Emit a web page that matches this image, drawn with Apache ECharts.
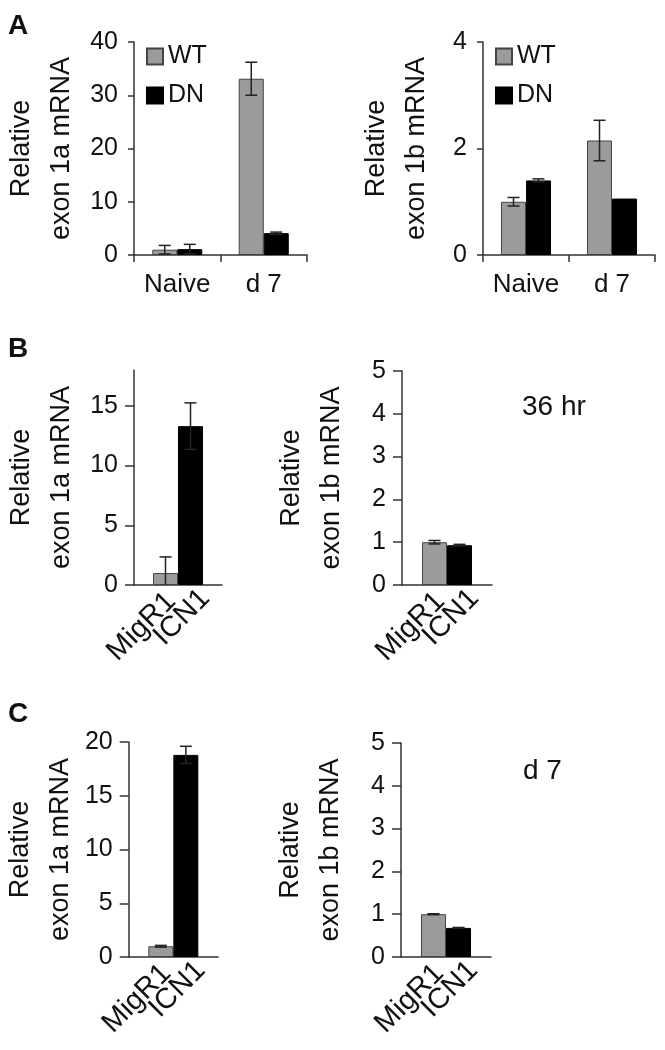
<!DOCTYPE html>
<html>
<head>
<meta charset="utf-8">
<script src="https://cdn.jsdelivr.net/npm/echarts@6/dist/echarts.min.js"></script>
<style>
html, body { margin: 0; padding: 0; background: #fff; }
#main { width: 665px; height: 1050px; }
</style>
</head>
<body>
<div id="main"></div>
<script>
// panel A: WT vs DN
const groupsA = ['Naive', 'd 7'];
const wt1a = [1.0, 33.1];
const wt1aErr = [0.8, 3.1];
const dn1a = [1.1, 4.1];
const dn1aErr = [0.9, 0.2];
const wt1b = [1.0, 2.15];
const wt1bErr = [0.08, 0.38];
const dn1b = [1.4, 1.06];
const dn1bErr = [0.03, 0];

// panel B (36 hr) and C (d 7): MigR1 vs ICN1
const groupsBC = ['MigR1', 'ICN1'];
const b1a = [1.0, 13.3];
const b1aErr = [1.35, 1.95];
const b1b = [1.0, 0.93];
const b1bErr = [0.04, 0.02];
const c1a = [1.0, 18.8];
const c1aErr = [0.08, 0.8];
const c1b = [1.0, 0.68];
const c1bErr = [0.01, 0.01];

// tick labels for the 18-max axis
const ticksB1a = [0, 5, 10, 15];

const FONT = 'Liberation Sans, Arial, Helvetica, sans-serif';
const GREY = '#9b9b9b';
const INK = '#111';
const BAR_W = 25;

const chart = echarts.init(document.getElementById('main'));

const grids = [
  { left: 134, top: 42, width: 173, height: 213 },
  { left: 483, top: 42, width: 172, height: 213 },
  { left: 134, top: 370, width: 88, height: 215 },
  { left: 402, top: 371, width: 90, height: 214 },
  { left: 128, top: 742, width: 90, height: 215 },
  { left: 401, top: 743, width: 90, height: 214 }
];

const axisLine = { show: true, lineStyle: { color: '#333', width: 1.5 } };

function xAx(gi, data, showLabels) {
  return {
    type: 'category', gridIndex: gi, data: data,
    axisLine: axisLine,
    axisTick: { show: showLabels, length: 7, lineStyle: { color: '#333', width: 1.5 } },
    axisLabel: { show: showLabels, interval: 0, fontSize: 26, margin: 17, color: INK },
    splitLine: { show: false }
  };
}

function yAx(gi, max, interval, name, gap, tickLen, custom) {
  const ax = {
    type: 'value', gridIndex: gi, min: 0, max: max, interval: interval,
    name: name, nameLocation: 'middle', nameRotate: 90, nameGap: gap,
    nameTextStyle: { fontSize: 27, lineHeight: 40, color: INK },
    axisLine: axisLine,
    axisTick: { show: true, length: tickLen, lineStyle: { color: '#333', width: 1.5 } },
    axisLabel: { fontSize: 25, margin: 16, color: INK },
    splitLine: { show: false }
  };
  if (custom) {
    ax.axisTick.customValues = custom;
    ax.axisLabel.customValues = custom;
  }
  return ax;
}

function barSeries(gi, name, data, color, label) {
  const s = {
    type: 'bar', name: name, xAxisIndex: gi, yAxisIndex: gi, data: data,
    barWidth: BAR_W, barGap: '0%',
    itemStyle: { color: color, borderColor: color === GREY ? '#444' : '#000', borderWidth: 1 }
  };
  if (label) s.label = label;
  return s;
}

// rotated category text drawn under each bar (offset is in the rotated frame)
function rotLabel(off, dist) {
  return {
    show: true, position: 'bottom', distance: dist, rotate: 45,
    align: 'right', verticalAlign: 'middle', offset: [off, off],
    formatter: '{a}', fontSize: 29, color: INK
  };
}

function errSeries(gi, vals, errs, k, n) {
  return {
    type: 'custom', xAxisIndex: gi, yAxisIndex: gi, z: 10, silent: true,
    encode: { x: 0, y: 1 },
    data: vals.map((v, i) => [i, v, errs[i]]),
    renderItem: function (params, api) {
      const i = api.value(0), v = api.value(1), e = api.value(2);
      if (!e) return;
      const off = (k - (n - 1) / 2) * BAR_W;
      const top = api.coord([i, v + e]);
      const bot = api.coord([i, Math.max(0, v - e)]);
      const x = top[0] + off;
      const st = { stroke: '#222', lineWidth: 1.5 };
      const kids = [
        { type: 'line', shape: { x1: x, y1: top[1], x2: x, y2: bot[1] }, style: st },
        { type: 'line', shape: { x1: x - 6, y1: top[1], x2: x + 6, y2: top[1] }, style: st }
      ];
      if (v - e > 0) {
        kids.push({ type: 'line', shape: { x1: x - 6, y1: bot[1], x2: x + 6, y2: bot[1] }, style: st });
      }
      return { type: 'group', children: kids };
    }
  };
}

const legendBase = {
  data: ['WT', 'DN'], orient: 'vertical', icon: 'rect',
  itemWidth: 16, itemHeight: 16, itemGap: 14, padding: 0, selectedMode: false,
  textStyle: { fontSize: 25, color: INK }
};

const titleStyle = { fontSize: 28, fontWeight: 'bold', color: INK };
const noteStyle = { fontSize: 28, fontWeight: 'normal', color: INK };

chart.setOption({
  animation: false,
  textStyle: { fontFamily: FONT },
  title: [
    { text: 'A', left: 8, top: 12, padding: 0, textStyle: titleStyle },
    { text: 'B', left: 8, top: 335, padding: 0, textStyle: titleStyle },
    { text: 'C', left: 8, top: 700, padding: 0, textStyle: titleStyle },
    { text: '36 hr', left: 522, top: 393, padding: 0, textStyle: noteStyle },
    { text: 'd 7', left: 523, top: 757, padding: 0, textStyle: noteStyle }
  ],
  legend: [
    Object.assign({ left: 146, top: 44 }, legendBase),
    Object.assign({ left: 495, top: 44 }, legendBase)
  ],
  grid: grids,
  xAxis: [
    xAx(0, groupsA, true),
    xAx(1, groupsA, true),
    xAx(2, [''], false),
    xAx(3, [''], false),
    xAx(4, [''], false),
    xAx(5, [''], false)
  ],
  yAxis: [
    yAx(0, 40, 10, 'Relative\nexon 1a mRNA', 52, 6),
    yAx(1, 4, 2, 'Relative\nexon 1b mRNA', 46, 6),
    yAx(2, 18, 5, 'Relative\nexon 1a mRNA', 52, 9, ticksB1a),
    yAx(3, 5, 1, 'Relative\nexon 1b mRNA', 50, 9),
    yAx(4, 20, 5, 'Relative\nexon 1a mRNA', 46, 9),
    yAx(5, 5, 1, 'Relative\nexon 1b mRNA', 50, 9)
  ],
  series: [
    barSeries(0, 'WT', wt1a, GREY),
    barSeries(0, 'DN', dn1a, '#000'),
    errSeries(0, wt1a, wt1aErr, 0, 2),
    errSeries(0, dn1a, dn1aErr, 1, 2),
    barSeries(1, 'WT', wt1b, GREY),
    barSeries(1, 'DN', dn1b, '#000'),
    errSeries(1, wt1b, wt1bErr, 0, 2),
    errSeries(1, dn1b, dn1bErr, 1, 2),

    barSeries(2, groupsBC[0], [b1a[0]], GREY, rotLabel(4, 12)),
    barSeries(2, groupsBC[1], [b1a[1]], '#000', rotLabel(10.5, 9)),
    errSeries(2, [b1a[0]], [b1aErr[0]], 0, 2),
    errSeries(2, [b1a[1]], [b1aErr[1]], 1, 2),
    barSeries(3, groupsBC[0], [b1b[0]], GREY, rotLabel(4, 12)),
    barSeries(3, groupsBC[1], [b1b[1]], '#000', rotLabel(10.5, 9)),
    errSeries(3, [b1b[0]], [b1bErr[0]], 0, 2),
    errSeries(3, [b1b[1]], [b1bErr[1]], 1, 2),

    barSeries(4, groupsBC[0], [c1a[0]], GREY, rotLabel(4, 12)),
    barSeries(4, groupsBC[1], [c1a[1]], '#000', rotLabel(10.5, 9)),
    errSeries(4, [c1a[0]], [c1aErr[0]], 0, 2),
    errSeries(4, [c1a[1]], [c1aErr[1]], 1, 2),
    barSeries(5, groupsBC[0], [c1b[0]], GREY, rotLabel(4, 12)),
    barSeries(5, groupsBC[1], [c1b[1]], '#000', rotLabel(10.5, 9)),
    errSeries(5, [c1b[0]], [c1bErr[0]], 0, 2),
    errSeries(5, [c1b[1]], [c1bErr[1]], 1, 2)
  ]
});
</script>
</body>
</html>
